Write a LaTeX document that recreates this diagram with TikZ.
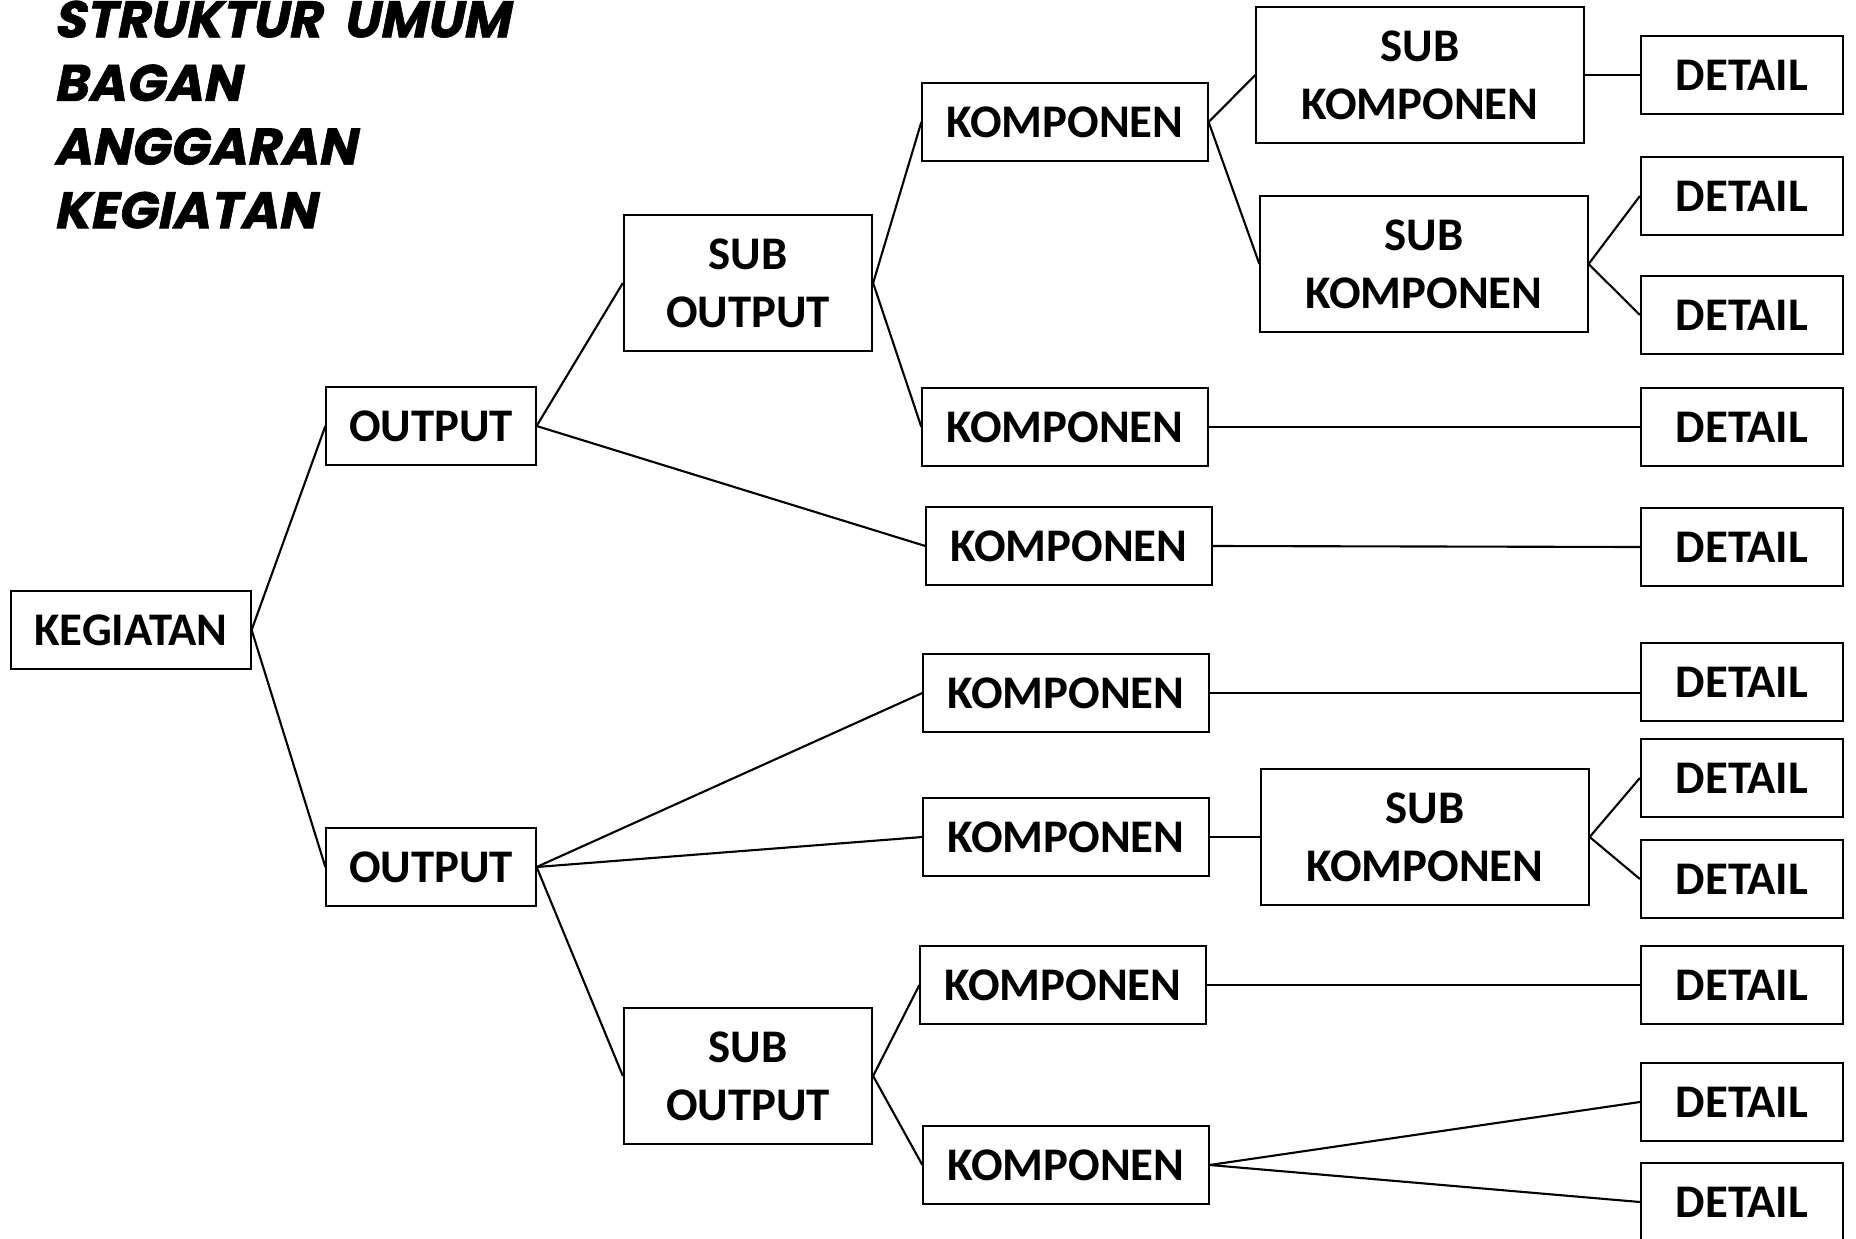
\documentclass[tikz,border=0pt]{standalone}
\usepackage{fontspec}
\setmainfont{Carlito}
\newfontfamily\titlefont[FakeSlant=0.2, FakeBold=1.2]{Poppins Bold}

\begin{document}
\begin{tikzpicture}[
        x=0.01cm, y=-0.01cm,
        box/.style={draw=black, line width=0.6pt, inner sep=0pt, align=center,
            font=\fontsize{13.3}{16.5}\selectfont\bfseries},
        kegbox/.style={box, minimum width=2.39cm, minimum height=0.78cm},
        outbox/.style={box, minimum width=2.09cm, minimum height=0.78cm},
        suboutbox/.style={box, minimum width=2.48cm, minimum height=1.36cm},
        kompbox/.style={box, minimum width=2.85cm, minimum height=0.78cm},
        subkompbox/.style={box, minimum width=3.27cm, minimum height=1.36cm},
        detailbox/.style={box, minimum width=2.02cm, minimum height=0.78cm},
        link/.style={line width=0.6pt}
    ]
        \useasboundingbox (0,0) rectangle (1856,1239);
        % Title
        \node[anchor=north west, inner sep=0pt, align=left,
            font=\titlefont\fontsize{14.6}{18.1}\selectfont] (judul) at (53,0)
            {STRUKTUR\ \ UMUM\\BAGAN\\ANGGARAN\\KEGIATAN};
        % Kegiatan
        \node[kegbox] (Keg) at (131,630) {KEGIATAN};
        % Output
        \node[outbox] (Out-1) at (431,426) {OUTPUT};
        \node[outbox] (Out-2) at (431,867) {OUTPUT};
        % Sub output
        \node[suboutbox] (SubOut-1) at (748,283) {SUB\\OUTPUT};
        \node[suboutbox] (SubOut-2) at (748,1076) {SUB\\OUTPUT};
        % Komponen
        \foreach \i/\x/\y in {1/1065/122, 2/1065/427, 3/1069/546, 4/1066/693,
                              5/1066/837, 6/1063/985, 7/1066/1165} {
            \node[kompbox] (Komp-\i) at (\x,\y) {KOMPONEN};
        }
        % Sub komponen
        \foreach \i/\x/\y in {1/1420/75, 2/1424/264, 3/1425/837} {
            \node[subkompbox] (SubKomp-\i) at (\x,\y) {SUB\\KOMPONEN};
        }
        % Detail
        \foreach \y [count=\i] in {75,196,315,427,547,682,778,879,985,1102,1202} {
            \node[detailbox] (Detail-\i) at (1742,\y) {DETAIL};
        }
        % Connect parent-child
        \foreach \a/\b in {Keg/Out-1, Keg/Out-2,
                           Out-1/SubOut-1, Out-1/Komp-3,
                           Out-2/Komp-4, Out-2/Komp-5, Out-2/SubOut-2,
                           SubOut-1/Komp-1, SubOut-1/Komp-2,
                           SubOut-2/Komp-6, SubOut-2/Komp-7,
                           Komp-1/SubKomp-1, Komp-1/SubKomp-2, Komp-5/SubKomp-3,
                           SubKomp-1/Detail-1, SubKomp-2/Detail-2, SubKomp-2/Detail-3,
                           Komp-2/Detail-4, Komp-3/Detail-5,
                           SubKomp-3/Detail-7, SubKomp-3/Detail-8,
                           Komp-6/Detail-9, Komp-7/Detail-10, Komp-7/Detail-11} {
            \draw[link] (\a.east) -- (\b.west);
        }
        % straight line, meets the box below its middle
        \draw[link] (Komp-4.east) -- (Komp-4.east -| Detail-6.west);
    \end{tikzpicture}
\end{document}
